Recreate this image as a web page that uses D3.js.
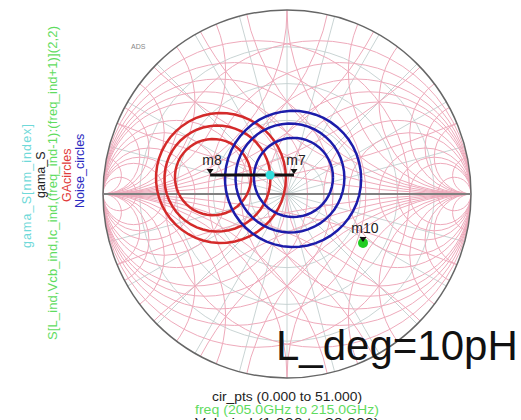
<!DOCTYPE html>
<html>
<head>
<meta charset="utf-8">
<script src="https://cdn.jsdelivr.net/npm/d3@7"></script>
<style>
  body { margin: 0; background: #fff; }
  svg { display: block; }
  text { font-family: "Liberation Sans", Arial, sans-serif; }
</style>
</head>
<body>
<svg id="chart" width="521" height="420"></svg>
<script>
// Smith grid values
var R_VALUES = [0.2, 0.4, 0.6, 0.8, 1, 1.5, 2, 3, 4, 5, 10]
var X_VALUES = [0.2, 0.4, 0.6, 0.8, 1, 1.5, 2, 3, 4, 5, 10]
var POLAR_RADII = [0.2, 0.4, 0.6, 0.8]
var POLAR_ANGLES = [0, 15, 30, 45, 60, 75, 90, 105, 120, 135, 150, 165]

// traces, in reflection coefficient (re, im)
var gamaS_re = [-0.418, 0.038]
var gamaS_im = [0.103, 0.103]
var nmIndex_re = [-0.092]
var nmIndex_im = [0.103]
var s22_re = [0.413]
var s22_im = [-0.266]

// GA circles and noise circles: center re, center im, radius
var ga_re = [-0.359, -0.378, -0.402]
var ga_im = [0.087, 0.084, 0.092]
var ga_r = [0.353, 0.288, 0.207]
var nf_re = [0.033, 0.016, 0.035]
var nf_im = [0.082, 0.087, 0.090]
var nf_r = [0.370, 0.296, 0.215]
var CIR_PTS = 52

// markers
var markerNames = ["m8", "m7", "m10"]
var marker_re = [-0.418, 0.038, 0.413]
var marker_im = [0.103, 0.103, -0.266]

var legendTexts = ["gama_S[nm_index]", "gama_S", "S[L_ind,Vcb_ind,Ic_ind,(freq_ind-1):(freq_ind+1)](2,2)", "GAcircles", "Noise_circles"]
var legendColors = ["#6fd9d9", "#222", "#5fdc5f", "#e03a3a", "#2a2ac0"]
var bottomTexts = ["cir_pts (0.000 to 51.000)", "freq (205.0GHz to 215.0GHz)", "Vcb_ind (1.000 to 20.000)"]
var bottomColors = ["#222", "#5fdc5f", "#222"]

var CX = 287, CY = 194, RAD = 184
var svg = d3.select("#chart")
var x = d3.scaleLinear().domain([-1, 1]).range([CX - RAD, CX + RAD])
var y = d3.scaleLinear().domain([-1, 1]).range([CY + RAD, CY - RAD])
var len = function(v) { return x(v) - x(0) }

svg.append("clipPath").attr("id", "unit")
  .append("circle").attr("cx", x(0)).attr("cy", y(0)).attr("r", len(1))

var grid = svg.append("g").attr("clip-path", "url(#unit)").attr("fill", "none")

// gray polar grid
var polar = grid.append("g").attr("stroke", "#c3cfcf").attr("stroke-width", 0.9)
polar.selectAll("circle").data(POLAR_RADII).join("circle")
  .attr("cx", x(0)).attr("cy", y(0)).attr("r", d => len(d))
polar.selectAll("line").data(POLAR_ANGLES).join("line")
  .attr("x1", d => x(-Math.cos(d * Math.PI / 180)))
  .attr("y1", d => y(-Math.sin(d * Math.PI / 180)))
  .attr("x2", d => x(Math.cos(d * Math.PI / 180)))
  .attr("y2", d => y(Math.sin(d * Math.PI / 180)))

// pink Z and Y grid
var pink = grid.append("g").attr("stroke", "#eeaabb").attr("stroke-width", 1)
pink.selectAll("circle.r").data(R_VALUES).join("circle").attr("class", "r")
  .attr("cx", d => x(d / (1 + d))).attr("cy", y(0)).attr("r", d => len(1 / (1 + d)))
pink.selectAll("circle.g").data(R_VALUES).join("circle").attr("class", "g")
  .attr("cx", d => x(-d / (1 + d))).attr("cy", y(0)).attr("r", d => len(1 / (1 + d)))
var arcs = []
X_VALUES.forEach(function(v) { [1, -1].forEach(function(s) { arcs.push({ v: v, s: s }) }) })
pink.selectAll("circle.x").data(arcs).join("circle").attr("class", "x")
  .attr("cx", x(1)).attr("cy", d => y(d.s / d.v)).attr("r", d => len(1 / d.v))
pink.selectAll("circle.b").data(arcs).join("circle").attr("class", "b")
  .attr("cx", x(-1)).attr("cy", d => y(d.s / d.v)).attr("r", d => len(1 / d.v))

// outer circle and real axis
svg.append("circle").attr("cx", x(0)).attr("cy", y(0)).attr("r", len(1))
  .attr("fill", "none").attr("stroke", "#666").attr("stroke-width", 1.5)
svg.append("line").attr("x1", x(-1)).attr("x2", x(1)).attr("y1", y(0)).attr("y2", y(0))
  .attr("stroke", "#808080").attr("stroke-width", 2)

svg.append("text").attr("x", 131).attr("y", 49).text("ADS")
  .attr("font-size", 7).attr("fill", "#888")

// circles drawn as cir_pts traces
var line = d3.line().x(d => x(d[0])).y(d => y(d[1]))
function circlePts(cr, ci, r) {
  return d3.range(CIR_PTS).map(function(k) {
    var a = 2 * Math.PI * k / (CIR_PTS - 1)
    return [cr + r * Math.cos(a), ci + r * Math.sin(a)]
  })
}
ga_r.forEach(function(r, i) {
  svg.append("path").attr("d", line(circlePts(ga_re[i], ga_im[i], r)))
    .attr("fill", "none").attr("stroke", "#d42a2a").attr("stroke-width", 2.5)
})
nf_r.forEach(function(r, i) {
  svg.append("path").attr("d", line(circlePts(nf_re[i], nf_im[i], r)))
    .attr("fill", "none").attr("stroke", "#1c1caa").attr("stroke-width", 2.5)
})

// gama_S trace
svg.append("path").attr("d", line(gamaS_re.map((v, i) => [v, gamaS_im[i]])))
  .attr("fill", "none").attr("stroke", "#111").attr("stroke-width", 3)
svg.selectAll("circle.nm").data(nmIndex_re).join("circle").attr("class", "nm")
  .attr("cx", d => x(d)).attr("cy", (d, i) => y(nmIndex_im[i])).attr("r", 4.5)
  .attr("fill", "#33dddd")
svg.selectAll("circle.s22").data(s22_re).join("circle").attr("class", "s22")
  .attr("cx", d => x(d)).attr("cy", (d, i) => y(s22_im[i])).attr("r", 5)
  .attr("fill", "#22cc22")

// markers
markerNames.forEach(function(name, i) {
  var px = x(marker_re[i]), py = y(marker_im[i])
  svg.append("path")
    .attr("d", "M" + (px - 3.5) + "," + (py - 6) + "L" + (px + 3.5) + "," + (py - 6) + "L" + px + "," + (py - 1) + "Z")
    .attr("fill", "#111")
  svg.append("text").attr("x", px + 2).attr("y", py - 10).attr("text-anchor", "middle")
    .attr("font-size", 14).attr("fill", "#222").text(name)
})

// left legend (rotated); start = bottom end of each text
var legendX = [31, 45, 57, 71, 84]
var legendStart = [248, 198, 340, 202, 208]
var legendLen = [124, 0, 314, 0, 0]
legendTexts.forEach(function(t, i) {
  var tx = svg.append("text")
    .attr("transform", "translate(" + legendX[i] + "," + legendStart[i] + ") rotate(-90)")
    .attr("font-size", i == 2 ? 13 : 12.5)
    .attr("fill", legendColors[i]).text(t)
  if (legendLen[i]) tx.attr("textLength", legendLen[i]).attr("lengthAdjust", "spacing")
})

// bottom labels
bottomTexts.forEach(function(t, i) {
  svg.append("text").attr("x", 287).attr("y", 401 + i * 13).attr("text-anchor", "middle")
    .attr("font-size", 12).attr("textLength", i == 0 ? 150 : 184).attr("lengthAdjust", "spacingAndGlyphs")
    .attr("fill", bottomColors[i]).text(t)
})

svg.append("text").attr("x", 276).attr("y", 360).attr("font-size", 42)
  .attr("fill", "#111").text("L_deg=10pH")
</script>
</body>
</html>
